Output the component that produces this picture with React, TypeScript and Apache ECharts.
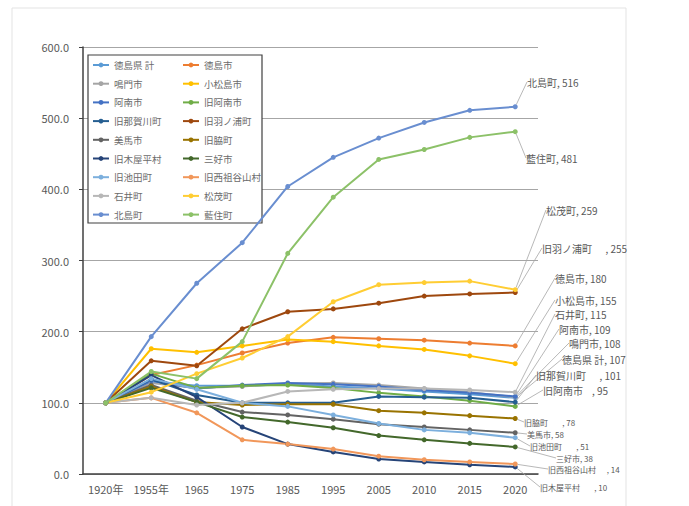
import React, { useEffect, useRef } from "react";
import * as echarts from "echarts";

const categories = ["1920年", "1955年", "1965", "1975", "1985", "1995", "2005", "2010", "2015", "2020"];
const yTicks = [0, 100, 200, 300, 400, 500, 600];

const tokushimaTotal = [100, 130, 124, 124, 126, 123, 120, 116, 112, 107];
const tokushimaCity = [100, 139, 153, 170, 184, 192, 190, 188, 184, 180];
const naruto = [100, 128, 121, 123, 127, 128, 125, 120, 115, 108];
const komatsushima = [100, 176, 171, 180, 189, 186, 180, 175, 166, 155];
const anan = [100, 131, 120, 125, 128, 126, 123, 118, 114, 109];
const kyuAnan = [100, 141, 121, 124, 125, 121, 114, 109, 103, 95];
const nakagawa = [100, 133, 111, 100, 100, 100, 109, 108, 107, 101];
const hanoura = [100, 159, 152, 204, 228, 232, 240, 250, 253, 255];
const mima = [100, 125, 103, 87, 83, 77, 70, 66, 62, 58];
const waki = [100, 123, 101, 97, 98, 98, 89, 86, 82, 78];
const koyadaira = [100, 139, 108, 66, 42, 31, 21, 17, 13, 10];
const miyoshi = [100, 121, 101, 80, 73, 65, 54, 48, 43, 38];
const ikeda = [100, 134, 119, 100, 95, 83, 71, 62, 58, 51];
const nishiiya = [100, 107, 86, 48, 42, 35, 25, 20, 17, 14];
const ishii = [100, 107, 97, 100, 116, 119, 120, 120, 118, 115];
const matsushige = [100, 115, 141, 163, 193, 242, 266, 269, 271, 259];
const kitajima = [100, 193, 268, 325, 404, 445, 472, 494, 511, 516];
const aizumi = [100, 144, 134, 186, 310, 389, 442, 456, 473, 481];

const seriesNames = [
  "徳島県 計", "徳島市", "鳴門市", "小松島市", "阿南市", "旧阿南市",
  "旧那賀川町", "旧羽ノ浦町", "美馬市", "旧脇町", "旧木屋平村", "三好市",
  "旧池田町", "旧西祖谷山村", "石井町", "松茂町", "北島町", "藍住町",
];
const seriesValues = [
  tokushimaTotal, tokushimaCity, naruto, komatsushima, anan, kyuAnan,
  nakagawa, hanoura, mima, waki, koyadaira, miyoshi,
  ikeda, nishiiya, ishii, matsushige, kitajima, aizumi,
];
const colors = [
  "#5B9BD5", "#ED7D31", "#A5A5A5", "#FFC000", "#4472C4", "#70AD47",
  "#255E91", "#9E480E", "#636363", "#997300", "#264478", "#43682B",
  "#7CAFDD", "#F1975A", "#B7B7B7", "#FFCD33", "#698ED0", "#8CC168",
];
// end-label text gap (after name) and placement [x, y, fontSize]
const labelGaps = ["", "", "", "", "", "    ", "      ", "      ", "", "        ", "        ", "", "        ", "      ", "", "", "", ""];
const labelPlaces: number[][] = [
  [562, 359, 10], [555, 278, 10], [569, 343, 10], [555, 300, 10], [559, 329, 10], [543, 390, 10],
  [536, 375, 10], [542, 248, 10], [527, 434, 8], [524, 422, 8], [540, 487, 8], [556, 458, 8],
  [530, 446, 8], [548, 469, 8], [555, 314, 10], [546, 210, 10], [527, 82, 10], [526, 158, 10],
];

const FONT = "'Noto Sans CJK JP', 'Noto Sans', sans-serif";

export default function App() {
  const ref = useRef<HTMLDivElement>(null);
  useEffect(() => {
    if (!ref.current) return;
    const chart = echarts.init(ref.current, undefined, { renderer: "svg" });
    const series = seriesNames.map((name, i) => {
      const vals = seriesValues[i];
      const last = vals.length - 1;
      const place = labelPlaces[i];
      return {
        name,
        type: "line",
        color: colors[i],
        symbol: "circle",
        symbolSize: 5,
        showSymbol: true,
        lineStyle: { width: 2, color: colors[i] },
        itemStyle: { color: colors[i] },
        emphasis: { disabled: true },
        data: vals.map((v, j) =>
          j === last
            ? {
                value: v,
                label: {
                  show: true,
                  formatter: name + labelGaps[i] + ", " + v,
                  color: "#595959",
                  fontSize: place[2],
                  lineHeight: place[2] + 1,
                  fontFamily: FONT,
                },
              }
            : { value: v, label: { show: false } }
        ),
        labelLayout: { x: place[0], y: place[1], align: "left", verticalAlign: "middle" },
        labelLine: { show: true, lineStyle: { color: "#A6A6A6", width: 0.8 } },
      };
    });
    const col1 = seriesNames.filter((_, i) => i % 2 === 0);
    const col2 = seriesNames.filter((_, i) => i % 2 === 1);
    const legendCommon = {
      orient: "vertical",
      top: 59,
      padding: 0,
      itemWidth: 16,
      itemHeight: 6,
      itemGap: 6.7,
      textStyle: { color: "#6B6B6B", fontSize: 9.5, lineHeight: 12, fontFamily: FONT },
      selectedMode: false,
    };
    chart.setOption({
      animation: false,
      backgroundColor: "#ffffff",
      grid: { left: 83, right: 151, top: 47, bottom: 32 },
      graphic: [
        { type: "rect", shape: { x: 12, y: 8, width: 614, height: 510 }, style: { fill: "none", stroke: "#E3E3E3", lineWidth: 1 }, z: 0 },
        { type: "rect", shape: { x: 88, y: 55, width: 174, height: 168 }, style: { fill: "#ffffff", stroke: "#404040", lineWidth: 1.2 }, z: 3 },
      ],
      legend: [
        { ...legendCommon, left: 92, data: col1, z: 5 },
        { ...legendCommon, left: 182, data: col2, z: 5 },
      ],
      xAxis: {
        type: "category",
        data: categories,
        boundaryGap: true,
        axisLine: { lineStyle: { color: "#404040", width: 1.5 } },
        axisTick: { show: false },
        axisLabel: { color: "#595959", fontSize: 11, margin: 9, interval: 0, fontFamily: FONT },
      },
      yAxis: {
        type: "value",
        min: yTicks[0],
        max: yTicks[yTicks.length - 1],
        interval: 100,
        axisLine: { show: true, lineStyle: { color: "#404040", width: 1.5 } },
        axisTick: { show: true, length: 4, lineStyle: { color: "#404040" } },
        splitLine: { lineStyle: { color: "#A6A6A6", width: 1 } },
        axisLabel: {
          color: "#595959",
          fontSize: 11,
          margin: 14,
          fontFamily: FONT,
          formatter: (v: number) => v.toFixed(1),
        },
      },
      series,
    });
    return () => chart.dispose();
  }, []);
  return (
    <div
      ref={ref}
      style={{ position: "fixed", left: 0, top: 0, width: 689, height: 506 }}
    />
  );
}
